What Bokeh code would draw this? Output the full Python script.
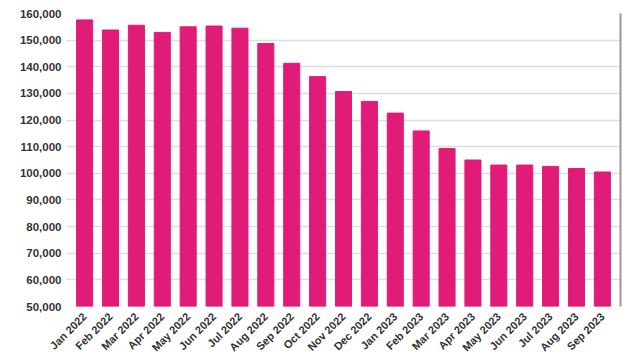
import math
from bokeh.plotting import figure
from bokeh.models import FactorRange, Range1d, LinearAxis, FixedTicker, NumeralTickFormatter
from bokeh.embed import file_html
from bokeh.resources import INLINE

months = ["Jan 2022", "Feb 2022", "Mar 2022", "Apr 2022", "May 2022", "Jun 2022",
          "Jul 2022", "Aug 2022", "Sep 2022", "Oct 2022", "Nov 2022", "Dec 2022",
          "Jan 2023", "Feb 2023", "Mar 2023", "Apr 2023", "May 2023", "Jun 2023",
          "Jul 2023", "Aug 2023", "Sep 2023"]
values = [157600, 153800, 155600, 152900, 155000, 155300,
          154500, 148700, 141300, 136300, 130700, 127000,
          122600, 115900, 109300, 105000, 103100, 103100,
          102600, 101800, 100500]
y_ticks = [50000, 60000, 70000, 80000, 90000, 100000, 110000,
           120000, 130000, 140000, 150000, 160000]

bar_color = "#E11B78"

p = figure(width=640, height=360, output_backend="svg", toolbar_location=None,
           x_range=FactorRange(factors=months, range_padding=0.2, range_padding_units="absolute"),
           y_range=Range1d(50000, 160000),
           min_border_left=66, min_border_right=20, min_border_top=13, min_border_bottom=52)

p.vbar(x=months, top=values, bottom=50000, width=0.62, color=bar_color)

p.outline_line_color = None
p.background_fill_color = "white"
p.border_fill_color = "white"

p.xgrid.grid_line_color = None
p.ygrid.grid_line_color = "#dedede"
p.ygrid.grid_line_width = 1.5
p.ygrid.level = "underlay"

p.yaxis.ticker = FixedTicker(ticks=y_ticks)
p.yaxis.formatter = NumeralTickFormatter(format="0,0")
p.yaxis.axis_line_color = None
p.yaxis.major_tick_line_color = None
p.yaxis.major_tick_out = 0
p.yaxis.major_tick_in = 0
p.yaxis.minor_tick_line_color = None
p.yaxis.major_label_text_font = "Liberation Sans"
p.yaxis.major_label_text_font_size = "11.5px"
p.yaxis.major_label_text_font_style = "bold"
p.yaxis.major_label_text_color = "#333333"
p.yaxis.major_label_standoff = 5

p.xaxis.axis_line_color = None
p.xaxis.major_tick_line_color = None
p.xaxis.major_tick_out = 0
p.xaxis.major_tick_in = 0
p.xaxis.minor_tick_line_color = None
p.xaxis.major_label_orientation = math.pi / 4
p.xaxis.major_label_text_font = "Liberation Sans"
p.xaxis.major_label_text_font_size = "11px"
p.xaxis.major_label_text_font_style = "bold"
p.xaxis.major_label_text_color = "#333333"
p.xaxis.major_label_standoff = 8

right = LinearAxis(ticker=FixedTicker(ticks=[]), axis_line_color="#999999",
                   axis_line_width=2, major_tick_line_color=None,
                   minor_tick_line_color=None, major_label_text_font_size="0px")
p.add_layout(right, "right")

open("out.html", "w").write(file_html(p, INLINE))
